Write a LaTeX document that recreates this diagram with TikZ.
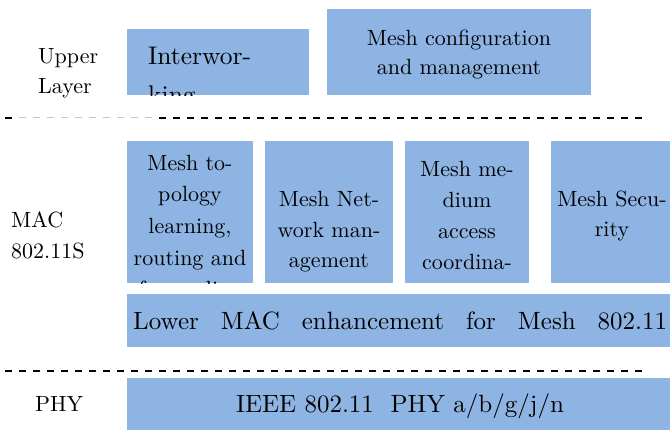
\documentclass[tikz,border=0pt]{standalone}
\usepackage{fontspec}
\setmainfont{lmroman10-regular}[Extension=.otf]
\definecolor{layerblue}{RGB}{142,180,227}

\begin{document}
\begin{tikzpicture}[
    x=1pt, y=-1pt,
    layer/.style={fill=layerblue, inner sep=0pt, anchor=north west},
    txt/.style={inner sep=0pt, anchor=base, align=center, font=\fontsize{22}{30.5}\selectfont},
    bigtxt/.style={inner sep=0pt, font=\fontsize{25}{32}\selectfont},
    lbl/.style={inner sep=0pt, anchor=base west, align=left, font=\fontsize{22}{30}\selectfont},
    sep/.style={line width=2pt, dash pattern=on 7.3pt off 6.7pt}
]
    \useasboundingbox (0, 0) rectangle (670, 430);

    % LAYER LABELS (base = last line)
    \node (lbl_upper) at (38, 94) [lbl] {Upper\\Layer};
    \node (lbl_mac) at (11, 259) [lbl, font=\fontsize{22}{31}\selectfont] {MAC\\802.11S};
    \node (lbl_phy) at (35, 412) [lbl] {PHY};

    % UPPER LAYER
    \node (interw) at (127, 29) [layer, minimum width=182pt, minimum height=66pt] {};
    \node (meshcfg) at (327, 9) [layer, minimum width=264pt, minimum height=86pt] {};
    \begin{scope}
        \clip (interw.south west) rectangle (interw.north east);
        \node (interw_txt) at (148, 104) [bigtxt, anchor=base west, align=left, font=\fontsize{25.5}{39}\selectfont] {Interwor-\\king};
    \end{scope}
    \node (meshcfg_txt) at (459, 75) [txt, font=\fontsize{22}{29}\selectfont] {Mesh configuration\\and management};

    % SEPARATOR UPPER / MAC (left part is lighter)
    \coordinate (sep1_a) at (5, 118);
    \coordinate (sep1_b) at (12.3, 118);
    \coordinate (sep1_c) at (19, 118);
    \coordinate (sep1_d) at (152, 118);
    \coordinate (sep1_e) at (159, 118);
    \coordinate (sep1_f) at (643, 118);
    \draw[sep] (sep1_a) -- (sep1_b);
    \draw[sep, line width=1pt, gray!45] (sep1_c) -- (sep1_d);
    \draw[sep] (sep1_e) -- (sep1_f);

    % MAC 802.11S
    \node (topo) at (127, 141) [layer, minimum width=126pt, minimum height=142pt] {};
    \node (netmgmt) at (265, 141) [layer, minimum width=128pt, minimum height=142pt] {};
    \node (medium) at (405, 141) [layer, minimum width=124pt, minimum height=142pt] {};
    \node (security) at (551, 141) [layer, minimum width=119pt, minimum height=142pt] {};
    \begin{scope}
        \clip (topo.south west) rectangle (topo.north east);
        \node (topo_txt) at (190, 297) [txt, font=\fontsize{22}{31.7}\selectfont] {Mesh to-\\pology\\learning,\\routing and\\forwarding};
    \end{scope}
    \node (netmgmt_txt) at (329, 268) [txt] {Mesh Net-\\work man-\\agement};
    \begin{scope}
        \clip (medium.south west) rectangle (medium.north east);
        \node (medium_txt) at (467, 301) [txt, font=\fontsize{22}{31}\selectfont] {Mesh me-\\dium\\access\\coordina-\\tion};
    \end{scope}
    \node (security_txt) at (612, 237) [txt] {Mesh Secu-\\rity};

    \node (lowermac) at (127, 294) [layer, minimum width=543pt, minimum height=53pt] {};
    \node (lowermac_txt) at (133, 330) [bigtxt, anchor=base west] {\makebox[534pt][s]{Lower MAC enhancement for Mesh 802.11}};

    % SEPARATOR MAC / PHY
    \coordinate (sep2_w) at (5, 371);
    \coordinate (sep2_e) at (643, 371);
    \draw[sep] (sep2_w) -- (sep2_e);

    % PHY
    \node (phy) at (127, 378) [layer, minimum width=543pt, minimum height=52pt] {};
    \node (phy_txt) at (400, 413) [bigtxt, anchor=base] {IEEE 802.11\ \ PHY a/b/g/j/n};
\end{tikzpicture}
\end{document}
